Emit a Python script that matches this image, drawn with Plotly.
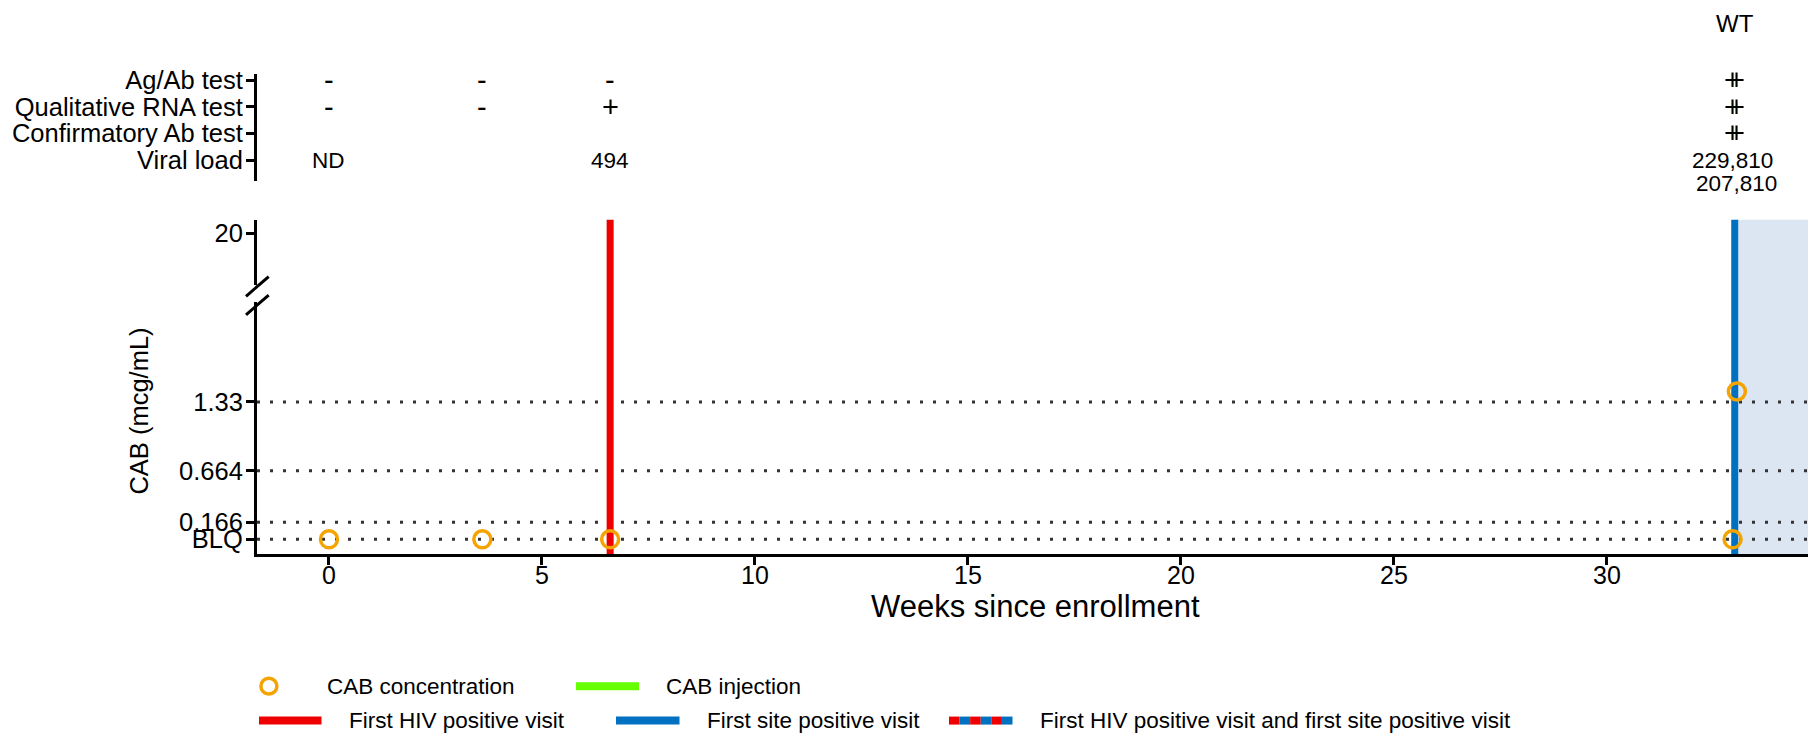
import plotly.graph_objects as go

W, H = 1816, 737

# ---------------- data ----------------
visit_weeks = [0, 3.6, 6.6, 32.95, 33.05]
cab_conc = [0, 0, 0, 0, 1.43]          # 0 = BLQ
first_hiv_pos_week = 6.6
first_site_pos_week = 33.0
ref_levels = [1.33, 0.664, 0.166, 0]
ref_labels = ["1.33", "0.664", "0.166", "BLQ"]
upper_ticks = [20]
x_ticks = [0, 5, 10, 15, 20, 25, 30]
x_range = [-1.69, 34.72]

table_rows = ["Ag/Ab test", "Qualitative RNA test", "Confirmatory Ab test", "Viral load"]
agab = ["-", "-", "-", "+", "+"]
rna = ["-", "-", "+", "+", "+"]
confirm = ["", "", "", "+", "+"]
viral_load = ["ND", "", "494", "229,810", "207,810"]
wt_label = "WT"

FONT = "Liberation Sans, Arial, sans-serif"
ORANGE = "#F5A300"
RED = "#EE0000"
BLUE = "#0070C0"
GREEN = "#66FF00"
SHADE = "#DCE6F2"

DY = -2.5  # small vertical adjustment of the plotting block


def px(x):
    return x / W


def py(y):
    return 1 - y / H


fig = go.Figure()

# CAB concentrations
fig.add_trace(go.Scatter(
    x=visit_weeks, y=cab_conc, mode="markers",
    marker=dict(symbol="circle-open", size=17, color=ORANGE, line=dict(width=3.5, color=ORANGE)),
    xaxis="x", yaxis="y", showlegend=False, cliponaxis=False, hoverinfo="skip"))

# dummy traces to create the upper broken segment and the table axes
fig.add_trace(go.Scatter(x=[None], y=[None], xaxis="x2", yaxis="y2", showlegend=False))
fig.add_trace(go.Scatter(x=[None], y=[None], xaxis="x3", yaxis="y3", showlegend=False))

plot_top = py(216.6 + DY)
plot_bot = py(554.8 + DY)

shapes = []
shapes.append(dict(type="rect", xref="x", yref="paper", x0=first_site_pos_week, x1=x_range[1],
                   y0=plot_bot, y1=plot_top, fillcolor=SHADE, line=dict(width=0), layer="below"))
for lv in ref_levels:
    shapes.append(dict(type="line", xref="x domain", yref="y", x0=0, x1=1, y0=lv, y1=lv,
                       line=dict(color="#333333", width=3, dash="3px,10px"), layer="below"))
shapes.append(dict(type="line", xref="x", yref="paper", x0=first_hiv_pos_week, x1=first_hiv_pos_week,
                   y0=plot_bot, y1=plot_top, line=dict(color=RED, width=7), layer="below"))
shapes.append(dict(type="line", xref="x", yref="paper", x0=first_site_pos_week, x1=first_site_pos_week,
                   y0=plot_bot, y1=plot_top, line=dict(color=BLUE, width=7), layer="below"))
for (xa, ya, xb, yb) in [(246, 294, 268.7, 274), (246, 312.7, 268.7, 292.7)]:
    shapes.append(dict(type="line", xref="paper", yref="paper", x0=px(xa), y0=py(ya + DY), x1=px(xb),
                       y1=py(yb + DY), line=dict(color="black", width=3)))

annotations = []
table_cols = [agab, rna, confirm, viral_load]
row_vals = [3, 2, 1, 0]
for col, rv in zip(table_cols, row_vals):
    for i, (wk, txt) in enumerate(zip(visit_weeks, col)):
        if not txt:
            continue
        shift = 0
        if rv == 0 and i > 0 and col[i - 1] and abs(visit_weeks[i - 1] - wk) < 0.5:
            shift = -23
        fsize = 29 if txt in ("+", "-") else 22.5
        annotations.append(dict(x=wk, y=rv, xref="x3", yref="y3", text=txt, showarrow=False,
                                xanchor="center", yanchor="middle",
                                yshift=shift, font=dict(family=FONT, size=fsize, color="black")))
annotations.append(dict(x=(visit_weeks[3] + visit_weeks[4]) / 2, y=py(16), xref="x", yref="paper",
                        text=wt_label, showarrow=False, xanchor="center", yanchor="middle",
                        font=dict(family=FONT, size=24, color="black")))
# x tick labels
for t in x_ticks:
    annotations.append(dict(x=t, y=py(573), xref="x", yref="paper", text=str(t), showarrow=False,
                            xanchor="center", yanchor="middle", font=dict(family=FONT, size=25, color="black")))
annotations.append(dict(x=px(1035.5), y=py(604.6), xref="paper", yref="paper", text="Weeks since enrollment",
                        showarrow=False, xanchor="center", yanchor="middle",
                        font=dict(family=FONT, size=31, color="black")))
annotations.append(dict(x=px(139), y=py(408), xref="paper", yref="paper", text="CAB (mcg/mL)",
                        textangle=-90, showarrow=False, xanchor="center", yanchor="middle",
                        font=dict(family=FONT, size=25.5, color="black")))

# manual legend
LF = dict(family=FONT, size=22.5, color="black")
r1, r2 = 685.6, 720.4


def leg_text(x, y, t):
    annotations.append(dict(x=px(x), y=py(y), xref="paper", yref="paper", xanchor="left", yanchor="middle",
                            text=t, showarrow=False, font=LF))


def leg_bar(x0, x1, y, color):
    shapes.append(dict(type="line", xref="paper", yref="paper", x0=px(x0), x1=px(x1), y0=py(y), y1=py(y),
                       line=dict(color=color, width=8)))


shapes.append(dict(type="circle", xref="paper", yref="paper", x0=px(268.9 - 8), x1=px(268.9 + 8),
                   y0=py(r1 + 8), y1=py(r1 - 8), line=dict(color=ORANGE, width=3.5)))
leg_text(325, r1, "CAB concentration")
leg_bar(576, 639, r1, GREEN)
leg_text(664, r1, "CAB injection")
leg_bar(259, 321.5, r2, RED)
leg_text(347, r2, "First HIV positive visit")
leg_bar(616, 679.5, r2, BLUE)
leg_text(705, r2, "First site positive visit")
seg = (1012.5 - 949) / 6
for k in range(6):
    leg_bar(949 + k * seg, 949 + (k + 1) * seg, r2, RED if k % 2 == 0 else BLUE)
leg_text(1038, r2, "First HIV positive visit and first site positive visit")

axis_common = dict(showline=True, linecolor="black", linewidth=3, ticks="outside", ticklen=8, tickwidth=2.5,
                   tickcolor="black", showgrid=False, zeroline=False,
                   tickfont=dict(family=FONT, size=25.5, color="black"))
xdom = [px(257), px(1808)]

fig.update_layout(
    width=W, height=H, margin=dict(l=0, r=0, t=0, b=0),
    paper_bgcolor="white", plot_bgcolor="rgba(0,0,0,0)", showlegend=False,
    shapes=shapes, annotations=annotations,
    xaxis=dict(domain=xdom, range=x_range, tickvals=x_ticks, showticklabels=False, anchor="y", **axis_common),
    yaxis=dict(domain=[plot_bot, py(300 + DY)], range=[-0.1445, 2.294], tickvals=ref_levels, ticktext=ref_labels,
               anchor="x", **axis_common),
    xaxis2=dict(domain=xdom, range=x_range, visible=False, anchor="y2", matches="x"),
    yaxis2=dict(domain=[py(283 + DY), plot_top], range=[18.11, 20.5], tickvals=upper_ticks, anchor="x2",
                **axis_common),
    xaxis3=dict(domain=xdom, range=x_range, visible=False, anchor="y3", matches="x"),
    yaxis3=dict(domain=[py(177 + DY), py(69.5 + DY)], range=[-0.767, 3.215], tickvals=row_vals,
                ticktext=table_rows, anchor="x3", **axis_common),
)

try:
    fig.update_layout(yaxis_ticklabelstandoff=-2, yaxis2_ticklabelstandoff=-2, yaxis3_ticklabelstandoff=-2)
except Exception:
    pass

fig.write_html("out.html")
